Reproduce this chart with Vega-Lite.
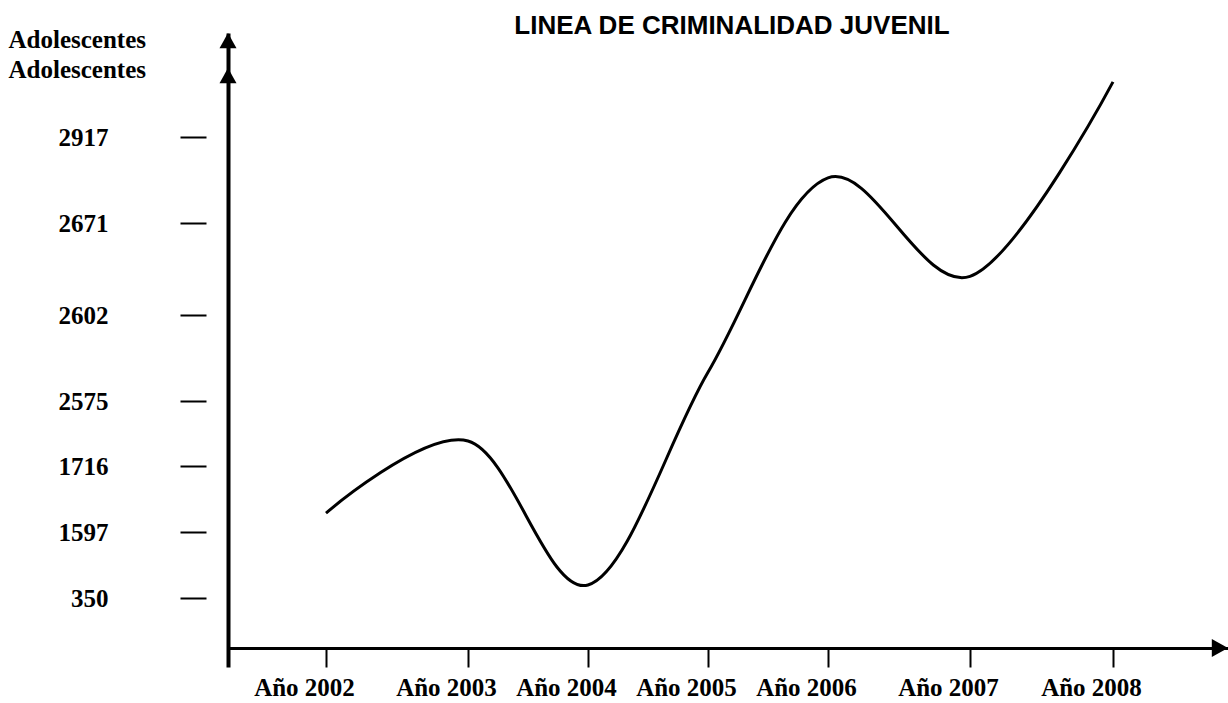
{
  "$schema": "https://vega.github.io/schema/vega-lite/v6.json",
  "width": 1000,
  "height": 634,
  "autosize": {"type": "none"},
  "padding": {"left": 228, "top": 33, "right": 0, "bottom": 36},
  "background": "white",
  "config": {"view": {"stroke": null}},
  "title": {
    "text": "LINEA DE CRIMINALIDAD JUVENIL",
    "font": "Liberation Sans",
    "fontSize": 26,
    "fontWeight": "bold",
    "color": "black",
    "anchor": "middle",
    "frame": "group",
    "baseline": "alphabetic",
    "offset": -33,
    "dx": 4
  },
  "data": {
    "values": [
      {"anio": 2002, "adolescentes": 1631},
      {"anio": 2003, "adolescentes": 2046},
      {"anio": 2004, "adolescentes": 596},
      {"anio": 2005, "adolescentes": 2584},
      {"anio": 2006, "adolescentes": 2800},
      {"anio": 2007, "adolescentes": 2631},
      {"anio": 2008, "adolescentes": 3067}
    ]
  },
  "layer": [
    {
      "mark": {"type": "line", "interpolate": "cardinal", "tension": 0, "color": "black", "strokeWidth": 3},
      "encoding": {
        "x": {
          "field": "anio",
          "type": "quantitative",
          "scale": {
            "type": "linear",
            "domain": [2001.3, 2002, 2003, 2004, 2005, 2006, 2007, 2008, 2008.8],
            "range": [0, 98, 240, 360, 480, 600, 742, 885, 1000],
            "zero": false,
            "nice": false
          },
          "axis": {
            "values": [2002, 2003, 2004, 2005, 2006, 2007, 2008],
            "labelExpr": "'Año ' + datum.value",
            "offset": -19,
            "domain": true,
            "domainColor": "black",
            "domainWidth": 3,
            "ticks": true,
            "tickColor": "black",
            "tickWidth": 2,
            "tickSize": 19,
            "labelFont": "Liberation Serif",
            "labelFontSize": 25,
            "labelFontWeight": "bold",
            "labelColor": "black",
            "labelPadding": 8,
            "labelOffset": -22,
            "labelFlush": false,
            "labelOverlap": false,
            "grid": false,
            "title": null
          }
        },
        "y": {
          "field": "adolescentes",
          "type": "quantitative",
          "scale": {
            "type": "linear",
            "domain": [0, 350, 1597, 1716, 2575, 2602, 2671, 2917, 3200],
            "range": [634, 565, 499, 433, 368, 282, 190, 104, 0],
            "zero": false,
            "nice": false
          },
          "axis": {
            "values": [350, 1597, 1716, 2575, 2602, 2671, 2917],
            "format": "d",
            "domain": true,
            "domainColor": "black",
            "domainWidth": 4,
            "ticks": true,
            "tickColor": "black",
            "tickWidth": 2,
            "tickSize": 48,
            "tickDash": [0, 22, 26, 0],
            "labelFont": "Liberation Serif",
            "labelFontSize": 25,
            "labelFontWeight": "bold",
            "labelColor": "black",
            "labelPadding": 72,
            "labelOverlap": false,
            "labelFlush": false,
            "grid": false,
            "title": ["Adolescentes", "Adolescentes"],
            "titleAngle": 0,
            "titleAlign": "left",
            "titleBaseline": "top",
            "titleX": -220,
            "titleY": -6,
            "titleFont": "Liberation Serif",
            "titleFontSize": 25,
            "titleFontWeight": "bold",
            "titleLineHeight": 30,
            "titleColor": "black"
          }
        }
      }
    },
    {
      "data": {"values": [{}]},
      "mark": {"type": "point", "shape": "M0,0L-1,1.8L1,1.8Z", "filled": true, "color": "black", "opacity": 1, "size": 289},
      "encoding": {
        "x": {"datum": 2001.3, "type": "quantitative"},
        "y": {"datum": 3200, "type": "quantitative"}
      }
    },
    {
      "data": {"values": [{}]},
      "mark": {"type": "point", "shape": "M0,0L-1,1.8L1,1.8Z", "filled": true, "color": "black", "opacity": 1, "size": 289},
      "encoding": {
        "x": {"datum": 2001.3, "type": "quantitative"},
        "y": {"datum": 3105, "type": "quantitative"}
      }
    },
    {
      "data": {"values": [{}]},
      "mark": {"type": "point", "shape": "M0,0L-1.8,-1L-1.8,1Z", "filled": true, "color": "black", "opacity": 1, "size": 324},
      "encoding": {
        "x": {"datum": 2008.8, "type": "quantitative"},
        "y": {"datum": 96, "type": "quantitative"}
      }
    }
  ]
}
